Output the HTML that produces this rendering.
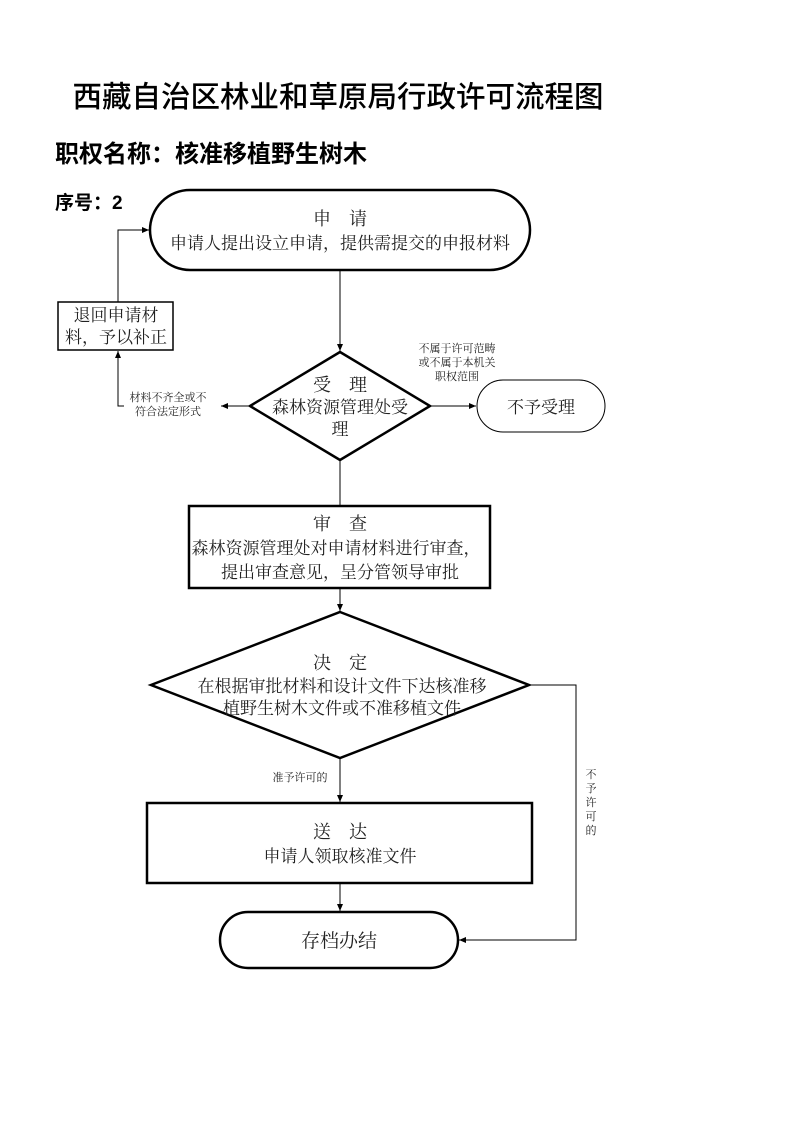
<!DOCTYPE html>
<html><head><meta charset="utf-8"><style>
body{margin:0;background:#fff}
svg{display:block}
text{font-family:"Liberation Serif","Noto Serif CJK SC",serif;fill:#222}
.s{font-family:"Liberation Sans","Noto Sans CJK SC",sans-serif;fill:#000}
</style></head><body>
<svg width="793" height="1122" viewBox="0 0 793 1122" xmlns="http://www.w3.org/2000/svg">
<defs><marker id="a" markerWidth="8" markerHeight="8" refX="7" refY="4" orient="auto" markerUnits="userSpaceOnUse"><path d="M0,1 L7,4 L0,7 z" fill="#000"/></marker></defs>
<text class="s" x="338" y="107" font-size="29.5" text-anchor="middle" font-weight="500">西藏自治区林业和草原局行政许可流程图</text>
<text class="s" x="55" y="162" font-size="24" font-weight="bold">职权名称：核准移植野生树木</text>
<text class="s" x="55" y="209" font-size="19" font-weight="bold">序号：2</text>
<g fill="none" stroke="#000">
<rect x="150" y="190" width="380" height="80" rx="40" stroke-width="2.5"/>
<rect x="58" y="302" width="115" height="48" stroke-width="1.5"/>
<polygon points="340,352 430,406 340,460 250,406" stroke-width="2.5"/>
<rect x="477" y="380" width="128" height="52" rx="26" stroke-width="1"/>
<rect x="189" y="506" width="301" height="82" stroke-width="2.5"/>
<polygon points="340,612 529,685 340,758 151,685" stroke-width="2.5"/>
<rect x="147" y="803" width="385" height="80" stroke-width="2.5"/>
<rect x="220" y="912" width="238" height="56" rx="28" stroke-width="2.5"/>
<g stroke-width="1">
<line x1="340" y1="270" x2="340" y2="351" marker-end="url(#a)"/>
<line x1="250" y1="406" x2="221" y2="406" marker-end="url(#a)"/>
<polyline points="124,406 118,406 118,351" marker-end="url(#a)"/>
<polyline points="118,302 118,230 149,230" marker-end="url(#a)"/>
<line x1="430" y1="406" x2="476" y2="406" marker-end="url(#a)"/>
<line x1="340" y1="460" x2="340" y2="506"/>
<line x1="340" y1="588" x2="340" y2="611" marker-end="url(#a)"/>
<line x1="340" y1="758" x2="340" y2="802" marker-end="url(#a)"/>
<line x1="340" y1="883" x2="340" y2="911" marker-end="url(#a)"/>
<polyline points="529,685 576,685 576,940 459,940" marker-end="url(#a)"/>
</g></g>
<g text-anchor="middle">
<text x="340" y="225" font-size="18">申　请</text>
<text x="340" y="249" font-size="17">申请人提出设立申请，提供需提交的申报材料</text>
<text x="116" y="321" font-size="17">退回申请材</text>
<text x="116" y="343" font-size="17">料，予以补正</text>
<text x="340" y="391" font-size="18">受　理</text>
<text x="340" y="413" font-size="17">森林资源管理处受</text>
<text x="340" y="435" font-size="17">理</text>
<text x="168" y="401" font-size="11">材料不齐全或不</text>
<text x="168" y="415" font-size="11">符合法定形式</text>
<text x="457" y="352" font-size="11">不属于许可范畴</text>
<text x="457" y="366" font-size="11">或不属于本机关</text>
<text x="457" y="380" font-size="11">职权范围</text>
<text x="541" y="413" font-size="17">不予受理</text>
<text x="340" y="530" font-size="18">审　查</text>
<text x="336" y="554" font-size="17">森林资源管理处对申请材料进行审查，</text>
<text x="340" y="578" font-size="17">提出审查意见，呈分管领导审批</text>
<text x="340" y="669" font-size="18">决　定</text>
<text x="342" y="692" font-size="17">在根据审批材料和设计文件下达核准移</text>
<text x="342" y="714" font-size="17">植野生树木文件或不准移植文件</text>
<text x="300" y="781" font-size="11">准予许可的</text>
<text x="340" y="838" font-size="18">送　达</text>
<text x="340" y="862" font-size="17">申请人领取核准文件</text>
<text x="339" y="947" font-size="19">存档办结</text>
<text x="591" y="778" font-size="11">不</text>
<text x="591" y="792" font-size="11">予</text>
<text x="591" y="806" font-size="11">许</text>
<text x="591" y="820" font-size="11">可</text>
<text x="591" y="834" font-size="11">的</text>
</g>
</svg>
</body></html>
